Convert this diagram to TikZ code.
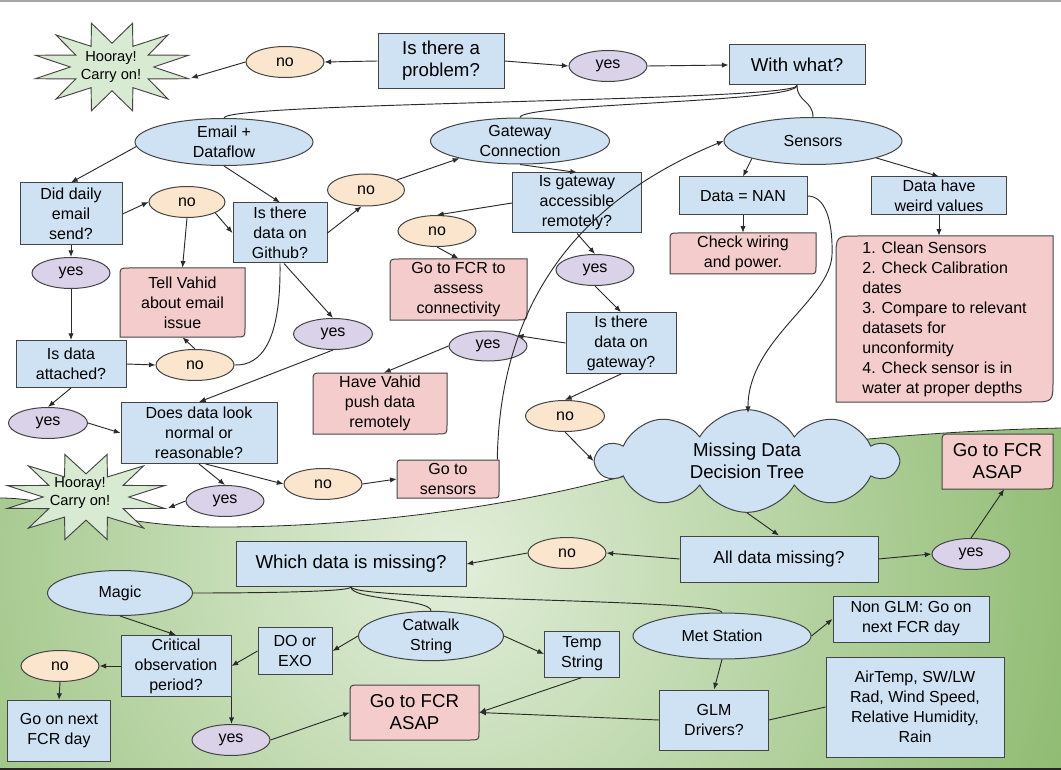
\documentclass[tikz,border=0pt]{standalone}
\usepackage{fontspec}
\setmainfont{Liberation Sans}
\usetikzlibrary{shapes.geometric,shapes.symbols,arrows.meta}
\definecolor{blueC}{HTML}{CFE2F3}
\definecolor{pinkC}{HTML}{F4CCCC}
\definecolor{noC}{HTML}{FCE5CD}
\definecolor{yesC}{HTML}{D9D2E9}
\definecolor{starC}{HTML}{D9EAD3}
\definecolor{lineC}{HTML}{2B2B2B}
\definecolor{bordC}{HTML}{444444}
\definecolor{gIn}{HTML}{E2EEDA}
\definecolor{gOut}{HTML}{8AB86B}
\newcommand{\txtN}{\fontsize{12}{15}\selectfont}
\newcommand{\txtL}{\fontsize{14}{16.5}\selectfont}
\newcommand{\txtS}{\fontsize{11}{14}\selectfont}
\newcommand{\txtA}{\fontsize{13}{16}\selectfont}
% name, x1, y1, x2, y2, radius, node options, text
\newcommand{\pinkdiag}[8]{%
  \filldraw[pinkshape] (#2,#5) -- (#2,#3+#6) .. controls (#2,#3) .. (#2+#6,#3) -- (#4,#3) -- (#4,#5-#6) .. controls (#4,#5) .. (#4-#6,#5) -- cycle;
  \node[pinktext, #7, minimum width={(#4-#2)*0.75pt}, minimum height={(#5-#3)*0.75pt}] (#1) at ({(#2+#4)/2},{(#3+#5)/2}) {#8};}
\begin{document}
\begin{tikzpicture}[x=0.75pt,y=-0.75pt,
  ln/.style={draw=lineC, line width=0.7pt},
  arr/.style={ln, -{Latex[length=5pt,width=4pt]}},
  base/.style={draw=bordC, line width=0.75pt, align=center, inner sep=0pt, font=\txtN, text=black},
  bbox/.style={base, rectangle, fill=blueC},
  bell/.style={base, ellipse, fill=blueC},
  noel/.style={base, ellipse, fill=noC},
  yesel/.style={base, ellipse, fill=yesC},
  wh/.style 2 args={minimum width=#1*0.75pt, minimum height=#2*0.75pt},
  pinkshape/.style={draw=bordC, line width=0.75pt, fill=pinkC},
  pinktext/.style={rectangle, inner sep=0pt, align=center, text=black, font=\txtN},
  starshape/.style={star, star points=12, star point ratio=1.9, shape border rotate=15, draw=bordC, line width=0.7pt, fill=starC, inner sep=0pt, transform shape},
  startext/.style={align=center, font=\txtS, text=black, inner sep=0pt}
]
\useasboundingbox (0,0) rectangle (1061,770);
\fill[white] (0,0) rectangle (1061,770);
% green ground
\begin{scope}
\clip (0,498) .. controls (60,498) and (110,527) .. (220,527) .. controls (340,527) and (480,512) .. (600,482) .. controls (700,458) and (850,433) .. (1061,428) -- (1061,770) -- (0,770) -- cycle;
\shade[inner color=gIn, outer color=gOut] (450,565) circle[radius=520pt];
\end{scope}
\draw[lineC, line width=0.6pt] (0,498) .. controls (60,498) and (110,527) .. (220,527) .. controls (340,527) and (480,512) .. (600,482) .. controls (700,458) and (850,433) .. (1061,428);
\draw[gray!70, line width=1.2pt] (0,1) -- (1061,1);
\draw[black!85, line width=1.5pt] (0,769) -- (1061,769);

% stars
\begin{scope}[shift={(112,67)}, xscale=1.75]
\node[starshape, minimum size=68pt] (starTopShape) at (0,0) {};
\end{scope}
\node[startext] (starTop) at (111,67) {Hooray!\\Carry on!};
\coordinate (starTopTip) at (191,78);
\begin{scope}[shift={(86,497)}, xscale=1.85]
\node[starshape, minimum size=66pt] (starBotShape) at (0,0) {};
\end{scope}
\node[startext] (starBot) at (80,493) {Hooray!\\Carry on!};
\coordinate (starBotTip) at (168,508);

% top part
\node[bbox, wh={126}{55}, font=\txtL] (prob) at (441,61) {Is there a\\problem?};
\node[noel, wh={78}{31}] (no1) at (285,62) {no};
\node[yesel, wh={78}{31}] (yes1) at (608,66) {yes};
\node[bbox, wh={136}{40}, font=\txtL] (what) at (797,65) {With what?};
\node[bell, wh={178}{47}] (email) at (224,142) {Email +\\Dataflow};
\node[bell, wh={179}{46}] (gwc) at (520,141) {Gateway\\Connection};
\node[bell, wh={178}{47}] (sens) at (813,141) {Sensors};
\node[bbox, wh={102}{62}] (daily) at (71,214) {Did daily\\email\\send?};
\node[noel, wh={76}{31}] (no2) at (187,202) {no};
\node[bbox, wh={94}{60}] (github) at (280,233) {Is there\\data on\\Github?};
\node[noel, wh={77}{32}] (no3) at (366,190) {no};
\node[bbox, wh={129}{60}] (gwacc) at (577,203) {Is gateway\\accessible\\remotely?};
\node[noel, wh={78}{31}] (no4) at (437,231) {no};
\node[bbox, wh={128}{38}] (nan) at (743,196) {Data = NAN};
\node[bbox, wh={135}{38}] (weird) at (939,196) {Data have\\weird values};
\pinkdiag{wiring}{670}{233}{816}{274}{8}{font=\txtN}{Check wiring\\and power.}
\pinkdiag{clean}{836}{236}{1053}{402}{22}{font=\txtN, align=left}{1. Clean Sensors\\2. Check Calibration\\dates\\3. Compare to relevant\\datasets for\\unconformity\\4. Check sensor is in\\water at proper depths}
\node[yesel, wh={78}{31}] (yes2) at (71,273) {yes};
\pinkdiag{tell}{120}{268}{245}{337}{9}{font=\txtN}{Tell Vahid\\about email\\issue}
\pinkdiag{fcrconn}{390}{259}{527}{320}{9}{font=\txtN}{Go to FCR to\\assess\\connectivity}
\node[yesel, wh={78}{31}] (yes3) at (595,270) {yes};
\node[yesel, wh={79}{31}] (yes4) at (333,334) {yes};
\node[bbox, wh={110}{47}] (attached) at (71,364) {Is data\\attached?};
\node[noel, wh={78}{31}] (no5) at (195,365) {no};
\node[bbox, wh={110}{61}] (gwdata) at (621,343) {Is there\\data on\\gateway?};
\node[yesel, wh={78}{30}] (yes5) at (488,346) {yes};
\pinkdiag{push}{313}{373}{447}{434}{9}{font=\txtN}{Have Vahid\\push data\\remotely}
\node[noel, wh={79}{31}] (no6) at (565,416) {no};
\node[yesel, wh={79}{31}] (yes6) at (48,423) {yes};
\node[bbox, wh={156}{61}] (normal) at (199,433) {Does data look\\normal or\\reasonable?};
\node[cloud, cloud puffs=10, cloud puff arc=120, cloud ignores aspect, draw=bordC, line width=0.75pt, fill=blueC, inner sep=0pt, minimum width=225pt, minimum height=77pt, font=\txtL, align=center, text=black] (cloud) at (747,461) {Missing Data\\Decision Tree};
\coordinate (cloudTop) at (748,413);
\pinkdiag{fcrr}{942}{434}{1053}{489}{9}{font=\txtL}{Go to FCR\\ASAP}
\node[noel, wh={78}{31}] (no7) at (323,484) {no};
\pinkdiag{gosens}{397}{460}{499}{498}{7}{font=\txtN}{Go to\\sensors}
\node[yesel, wh={78}{31}] (yes7) at (225,501) {yes};

% bottom part
\node[noel, wh={78}{31}] (no8) at (567,553) {no};
\node[bbox, wh={230}{45}, font=\txtL] (which) at (351,564) {Which data is missing?};
\node[bbox, wh={198}{46}, font=\txtA] (alld) at (779,559) {All data missing?};
\node[yesel, wh={78}{31}] (yes8) at (971,554) {yes};
\node[bell, wh={145}{45}] (magic) at (120,593) {Magic};
\node[bell, wh={145}{46}] (catwalk) at (431,636) {Catwalk\\String};
\node[bell, wh={178}{46}] (met) at (722,636) {Met Station};
\node[bbox, wh={156}{46}] (nonglm) at (911,619) {Non GLM: Go on\\next FCR day};
\node[bbox, wh={74}{47}] (doexo) at (295,651) {DO or\\EXO};
\node[bbox, wh={75}{46}] (temp) at (582,654) {Temp\\String};
\node[bbox, wh={110}{61}] (crit) at (176,666) {Critical\\observation\\period?};
\node[noel, wh={78}{31}] (no9) at (60,666) {no};
\pinkdiag{fcrl}{350}{685}{479}{740}{9}{font=\txtL}{Go to FCR\\ASAP}
\node[bbox, wh={178}{100}] (air) at (915,707) {AirTemp, SW/LW\\Rad, Wind Speed,\\Relative Humidity,\\Rain};
\node[bbox, wh={109}{60}] (glm) at (714,720) {GLM\\Drivers?};
\node[bbox, wh={103}{61}] (nextday) at (59,731) {Go on next\\FCR day};
\node[yesel, wh={78}{31}] (yes9) at (231,740) {yes};

% connectors, top
\draw[arr] (prob.west) -- (no1.east);
\draw[arr] (no1.west) -- (starTopTip);
\draw[arr] (prob.east) -- (yes1.west);
\draw[arr] (yes1.east) -- (what.west);
\draw[ln] (what.south) .. controls +(0,16) and +(0,-16) .. (email.north);
\draw[ln] (what.south) .. controls +(0,17) and +(0,-14) .. (gwc.north);
\draw[ln] (what.south) .. controls +(0,16) and +(0,-16) .. (sens.north);
\draw[arr] (email.183) -- (daily.north);
\draw[arr] (email.south) -- (github.north);
\draw[arr] (daily.east) -- (no2.west);
\draw[arr] (no2.-21) -- (github.west);
\draw[arr] (no2.south) -- (tell.north);
\draw[arr] (daily.south) -- (yes2.north);
\draw[arr] (yes2.south) -- (attached.north);
\draw[arr] (attached.east) -- (no5.west);
\draw[arr] (no5.north) -- (tell.south);
\draw[arr] (github.east) -- (no3.255);
\draw[arr] (no3.18) -- (gwc.196);
\draw[ln] (github.south) .. controls (281,340) and (262,366) .. (no5.east);
\draw[arr] ([xshift=3pt]github.south) -- (yes4.north);
\draw[arr] (yes4.south) -- (normal.north);
\draw[arr] (attached.south) -- (yes6.north);
\draw[arr] (yes6.east) -- (normal.west);
\draw[arr] (normal.south) -- (yes7.north);
\draw[arr] ([xshift=5pt]normal.south) -- (no7.west);
\draw[arr] (yes7.west) -- (starBotTip);
\draw[arr] (no7.east) -- (gosens.west);
\draw[arr] ([xshift=-1.5pt]gosens.north east) .. controls (500,300) and (580,200) .. (sens.west);
\draw[arr] (gwc.south) -- (gwacc.north);
\draw[arr] (gwacc.west) -- (no4.north);
\draw[arr] (no4.south) -- (fcrconn.north);
\draw[arr] (gwacc.south) -- (yes3.north);
\draw[arr] (yes3.south) -- (gwdata.north);
\draw[arr] (gwdata.west) -- (yes5.20);
\draw[arr] (yes5.west) -- ([xshift=3pt]push.north);
\draw[arr] (gwdata.south) -- (no6.north);
\draw[arr] (no6.south) -- (cloud.west);
\draw[arr] (sens.196) -- (nan.north);
\draw[arr] (sens.-15) -- (weird.north);
\draw[arr] (nan.south) -- (wiring.north);
\draw[arr] (weird.south) -- (weird.south |- clean.north);
\draw[arr] (nan.east) .. controls (825,196) and (833,220) .. (832,255) .. controls (830,300) and (748,340) .. (cloudTop);

% connectors, bottom
\draw[arr] (cloud.south) -- (alld.north);
\draw[arr] (alld.west) -- (no8.east);
\draw[arr] (no8.west) -- (which.east);
\draw[arr] (alld.east) -- (yes8.west);
\draw[arr] (yes8.north) -- ([xshift=5pt]fcrr.south);
\draw[ln] (which.south) .. controls +(0,5) and +(60,0) .. (magic.east);
\draw[ln] (which.south) .. controls +(0,13) and +(0,-12) .. (catwalk.north);
\draw[ln] (which.south) .. controls +(0,13) and +(0,-13) .. (met.north);
\draw[arr] (magic.south) -- (crit.north);
\draw[arr] (catwalk.west) -- (doexo.east);
\draw[arr] (doexo.west) -- (crit.east);
\draw[arr] (crit.west) -- (no9.east);
\draw[arr] (no9.south) -- (nextday.north);
\draw[arr] (crit.south east) -- (crit.south east |- yes9.north);
\draw[arr] (yes9.east) -- (fcrl.west);
\draw[arr] (catwalk.east) -- (temp.west);
\draw[arr] (temp.south) -- (fcrl.east);
\draw[arr] (glm.west) -- (fcrl.east);
\draw[arr] (met.east) -- (nonglm.west);
\draw[arr] (met.south) -- (glm.north);
\draw[ln] (glm.east) -- (air.west);
\end{tikzpicture}
\end{document}
